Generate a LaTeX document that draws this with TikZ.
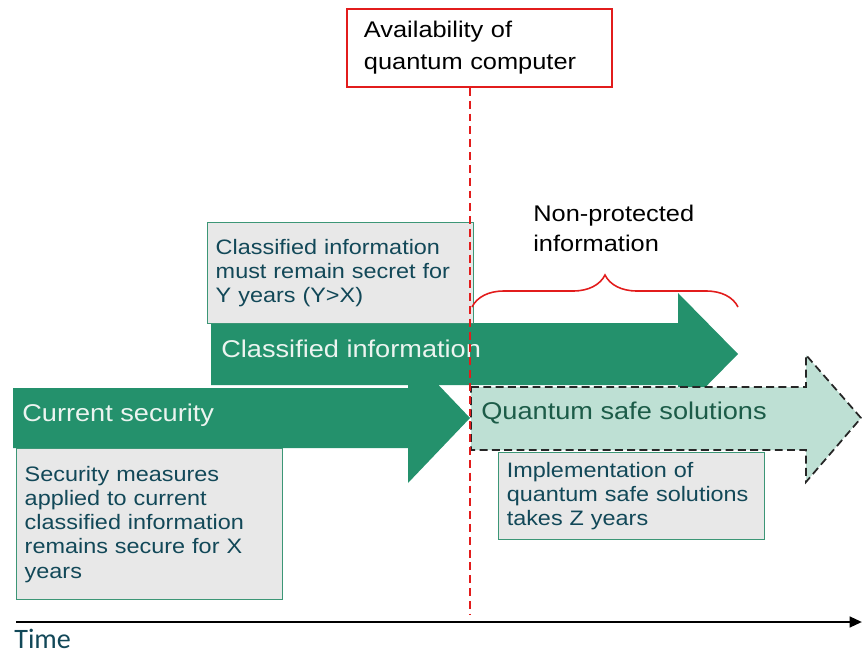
\documentclass[tikz,border=0pt]{standalone}
\usepackage{fontspec}
\setmainfont[FakeStretch=1.12]{Liberation Sans}
\newfontfamily\timefont{Carlito}
\usepackage{tikz}
\usetikzlibrary{arrows.meta, positioning, calc, decorations.pathreplacing}
\definecolor{myred}{RGB}{226,28,28}
\definecolor{mygreen}{RGB}{36,145,108}
\definecolor{mylight}{RGB}{190,224,212}
\definecolor{mygray}{RGB}{232,232,232}
\definecolor{myedge}{RGB}{60,150,118}
\definecolor{myink}{RGB}{18,72,88}
\definecolor{mypale}{RGB}{236,244,240}
\definecolor{mydeep}{RGB}{28,92,72}
\tikzset{
  infobox/.style={rectangle, draw=myedge, fill=mygray, line width=0.85pt,
    text width=5cm, inner xsep=0.16cm, inner ysep=0pt, minimum width=5.32cm,
    align=left, anchor=north west, text=myink,
    font=\fontsize{11.9}{13.8}\selectfont},
  qcbox/.style={rectangle, draw=myred, fill=white, line width=1.1pt,
    text width=4.62cm, inner xsep=0.34cm, inner ysep=0pt, minimum height=1.56cm,
    align=left, anchor=north west, font=\fontsize{12.9}{18.1}\selectfont},
  arrowlabel/.style={anchor=base west, inner sep=0pt,
    font=\fontsize{13.8}{16}\selectfont},
  greenarrow/.style={fill=mygreen, draw=none},
  qsarrow/.style={fill=mylight, draw=black!85, line width=1pt,
    dash pattern=on 4.5pt off 2.5pt},
  reddash/.style={myred, line width=1.1pt, dash pattern=on 4.5pt off 2.8pt},
  redbrace/.style={myred, line width=0.9pt, decorate,
    decoration={brace, amplitude=0.64cm}},
  timeaxis/.style={-{Triangle[length=7pt, width=6pt]}, line width=1.4pt, black}
}
\begin{document}
\begin{tikzpicture}[x=0.02cm, y=-0.02cm]
  \useasboundingbox (0,0) rectangle (862,655);

  % Draw Current Security arrow
  \draw[greenarrow] (13,388) -- (408,388) -- (408,353) -- (470,418)
    -- (408,483) -- (408,448) -- (13,448) -- cycle;

  % Draw Classified Information arrow
  \draw[greenarrow] (211,323) -- (678,323) -- (678,293) -- (738,354)
    -- (678,415) -- (678,385) -- (211,385) -- cycle;

  % Draw Quantum Safe arrow (dashed)
  \draw[qsarrow] (471,387) -- (806,387) -- (806,355) -- (861,418)
    -- (806,482) -- (806,450) -- (471,450) -- cycle;

  % Arrow labels
  \node[arrowlabel, text=mypale] (curlbl) at (22,421) {Current security};
  \node[arrowlabel, text=mypale] (clslbl) at (221,357) {Classified information};
  \node[arrowlabel, text=mydeep] (qslbl) at (481,419) {Quantum safe solutions};

  % Explanation boxes
  \node[infobox, minimum height=2.02cm] (clsbox) at (207,222)
    {Classified information\\must remain secret for\\Y years (Y>X)};
  \node[infobox, minimum height=3.02cm] (secbox) at (16,448)
    {Security measures\\applied to current\\classified information\\remains secure for X\\years};
  \node[infobox, minimum height=1.74cm] (impbox) at (498,452)
    {Implementation of\\quantum safe solutions\\takes Z years};

  % Availability of quantum computer
  \node[qcbox] (qcbox) at (346,8) {Availability of\\quantum computer};
  \coordinate (qcfoot) at (470,615);
  \draw[reddash] (qcbox.south -| qcfoot) -- (qcfoot);

  % Non-protected span
  \coordinate (bracel) at (472,307);
  \coordinate (bracer) at (738,307);
  \draw[redbrace] (bracel) -- (bracer);
  \node[anchor=north west, inner sep=0pt, align=left,
    font=\fontsize{12.9}{17}\selectfont] (nonprot) at (533,205)
    {Non-protected\\information};

  % Time axis
  \coordinate (tstart) at (16,622);
  \coordinate (tend) at (862,622);
  \draw[timeaxis] (tstart) -- (tend);
  \node[anchor=north west, inner sep=0pt, text=myink,
    font=\timefont\fontsize{16}{18}\selectfont] (timelbl) at (14,629) {Time};
\end{tikzpicture}
\end{document}
